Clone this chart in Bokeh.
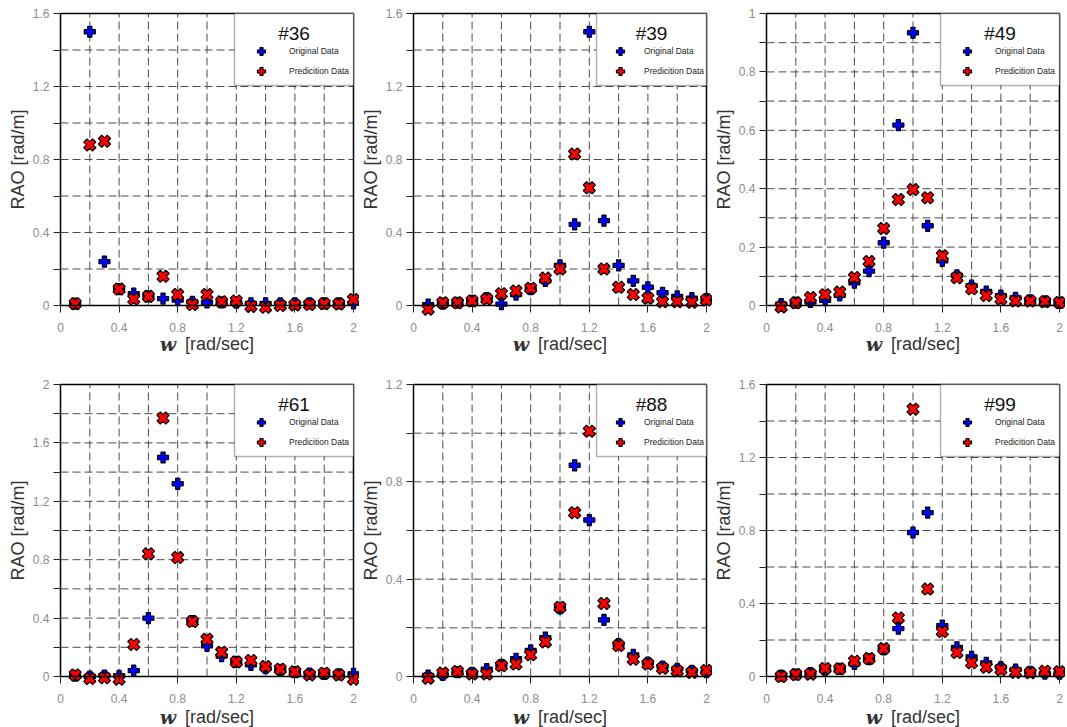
import math
from bokeh.plotting import figure
from bokeh.layouts import column, row
from bokeh.models import FixedTicker, Legend, LegendItem, Label, BoxAnnotation
from bokeh.embed import file_html
from bokeh.resources import INLINE

# ---------------- data ----------------
omega = [0.1, 0.2, 0.3, 0.4, 0.5, 0.6, 0.7, 0.8, 0.9, 1.0,
         1.1, 1.2, 1.3, 1.4, 1.5, 1.6, 1.7, 1.8, 1.9, 2.0]

case_ids = ["#36", "#39", "#49", "#61", "#88", "#99"]
y_max = [1.6, 1.6, 1.0, 2.0, 1.2, 1.6]
y_grid_step = [0.2, 0.2, 0.1, 0.2, 0.2, 0.2]
y_label_step = [0.4, 0.4, 0.2, 0.4, 0.4, 0.4]
x_ticks = [0, 0.4, 0.8, 1.2, 1.6, 2]
x_tick_labels = ["0", "0.4", "0.8", "1.2", "1.6", "2"]
legend_labels = ["Original Data", "Predicition Data"]

orig_36 = [0.01, 1.50, 0.24, 0.09, 0.065, 0.05, 0.038, 0.03, 0.02, 0.017,
           0.017, 0.015, 0.012, 0.012, 0.012, 0.012, 0.012, 0.012, 0.012, 0.012]
pred_36 = [0.01, 0.88, 0.90, 0.09, 0.035, 0.05, 0.16, 0.06, 0.005, 0.06,
           0.02, 0.025, -0.005, -0.01, 0.0, 0.003, 0.005, 0.01, 0.008, 0.033]

orig_39 = [0.005, 0.01, 0.015, 0.025, 0.04, 0.008, 0.06, 0.09, 0.135, 0.22,
           0.445, 1.50, 0.465, 0.22, 0.135, 0.10, 0.07, 0.05, 0.04, 0.035]
pred_39 = [-0.02, 0.015, 0.015, 0.025, 0.035, 0.065, 0.08, 0.095, 0.15, 0.20,
           0.83, 0.645, 0.20, 0.10, 0.06, 0.04, 0.02, 0.02, 0.018, 0.03]

orig_49 = [0.005, 0.01, 0.012, 0.018, 0.035, 0.078, 0.118, 0.215, 0.618, 0.934,
           0.273, 0.153, 0.103, 0.068, 0.048, 0.034, 0.026, 0.018, 0.014, 0.009]
pred_49 = [-0.005, 0.009, 0.027, 0.037, 0.046, 0.096, 0.151, 0.264, 0.363, 0.397,
           0.369, 0.170, 0.095, 0.057, 0.034, 0.022, 0.015, 0.015, 0.013, 0.010]

orig_61 = [0.005, 0.0, 0.007, 0.005, 0.04, 0.40, 1.50, 1.32, 0.38, 0.21,
           0.14, 0.10, 0.08, 0.057, 0.045, 0.03, 0.02, 0.018, 0.014, 0.018]
pred_61 = [0.011, -0.014, -0.009, -0.018, 0.22, 0.84, 1.77, 0.815, 0.376, 0.255,
           0.166, 0.10, 0.11, 0.068, 0.05, 0.032, 0.011, 0.023, 0.011, -0.018]

orig_88 = [0.004, 0.007, 0.018, 0.015, 0.03, 0.048, 0.073, 0.107, 0.16, 0.28,
           0.868, 0.643, 0.233, 0.133, 0.089, 0.057, 0.041, 0.031, 0.023, 0.018]
pred_88 = [-0.007, 0.014, 0.021, 0.01, 0.01, 0.044, 0.051, 0.089, 0.142, 0.285,
           0.673, 1.008, 0.30, 0.127, 0.071, 0.051, 0.034, 0.023, 0.016, 0.025]

orig_99 = [0.005, 0.011, 0.018, 0.036, 0.042, 0.069, 0.095, 0.148, 0.262, 0.789,
           0.898, 0.279, 0.16, 0.108, 0.075, 0.051, 0.038, 0.026, 0.016, 0.015]
pred_99 = [0.0, 0.011, 0.013, 0.044, 0.042, 0.084, 0.098, 0.153, 0.321, 1.465,
           0.479, 0.246, 0.131, 0.075, 0.051, 0.038, 0.022, 0.02, 0.029, 0.026]

original = [orig_36, orig_39, orig_49, orig_61, orig_88, orig_99]
predicted = [pred_36, pred_39, pred_49, pred_61, pred_88, pred_99]

# ---------------- layout / style ----------------
BW, BH = 293, 292          # plot box (0..2, 0..ymax) in px
PAD_R = 6
pad_left = [60, 54, 54, 60, 54, 54]
pad_top = [13, 13, 13, 8, 8, 8]
pad_bottom = [71, 71, 71, 51, 51, 51]
xtitle_drop = [38, 38, 38, 40, 40, 40]
X_MAX = 2.0
NARROW = "'Liberation Sans Narrow', 'Liberation Sans', Arial, sans-serif"
SANS = "'Liberation Sans', Arial, sans-serif"
TICK_COLOR = "#8c8c8c"
LABEL_COLOR = "#333333"
legend_box_w = [119, 110, 119, 119, 110, 119]
LEG_H = 72


def fmt(t):
    if abs(t - round(t)) < 1e-9:
        return str(int(round(t)))
    return "%.1f" % t


def make_panel(i):
    ymax = y_max[i]
    gstep = y_grid_step[i]
    lstep = y_label_step[i]
    px = X_MAX / BW          # data units per pixel
    py = ymax / BH
    pl, pt, pb = pad_left[i], pad_top[i], pad_bottom[i]
    fw = pl + BW + PAD_R
    fh = pt + BH + pb
    p = figure(frame_width=fw, frame_height=fh,
               x_range=(-pl * px, X_MAX + PAD_R * px),
               y_range=(-pb * py, ymax + pt * py),
               output_backend="svg", toolbar_location=None,
               min_border=0)
    p.outline_line_color = None
    p.grid.visible = False
    p.background_fill_color = "white"
    p.border_fill_color = "white"

    # dashed grid (from tick positions)
    gx = [round(k * 0.2, 6) for k in range(1, int(round(X_MAX / 0.2)))]
    p.segment(x0=gx, y0=[0] * len(gx), x1=gx, y1=[ymax] * len(gx),
              line_color="#4a4a4a", line_width=1, line_dash="8 4")
    ny = int(round(ymax / gstep))
    gy = [round(k * gstep, 6) for k in range(1, ny)]
    p.segment(x0=[0] * len(gy), y0=gy, x1=[X_MAX] * len(gy), y1=gy,
              line_color="#4a4a4a", line_width=1, line_dash="8 4")

    # solid top and right borders
    p.segment(x0=[0, X_MAX], y0=[ymax, 0], x1=[X_MAX, X_MAX], y1=[ymax, ymax],
              line_color="black", line_width=1.5)

    r_o = p.scatter(omega, original[i], marker="plus", size=11,
                    fill_color="#0000ff", line_color="black", line_width=1.2)
    r_p = p.scatter(omega, predicted[i], marker="plus", angle=math.pi / 4, size=12.5,
                    fill_color="#ff0000", line_color="black", line_width=1.2)

    # x axis on the zero line
    xa = p.xaxis[0]
    xa.fixed_location = 0
    xa.bounds = (0, X_MAX)
    xa.ticker = FixedTicker(ticks=x_ticks, minor_ticks=[])
    xa.major_label_overrides = dict(zip([float(t) for t in x_ticks], x_tick_labels))
    xa.axis_line_color = "black"
    xa.axis_line_width = 1.5
    xa.major_tick_in = 0
    xa.major_tick_out = 7
    xa.major_tick_line_color = "#222222"
    xa.major_label_standoff = 10
    xa.major_label_text_font = SANS
    xa.major_label_text_font_size = "12px"
    xa.major_label_text_color = TICK_COLOR

    # y axis on x = 0
    yt = [round(k * gstep, 6) for k in range(0, ny + 1)]
    ov = {}
    for t in yt:
        q = t / lstep
        ov[float(t)] = fmt(t) if abs(q - round(q)) < 1e-6 else ""
    ya = p.yaxis[0]
    ya.fixed_location = 0
    ya.bounds = (0, ymax)
    ya.ticker = FixedTicker(ticks=yt, minor_ticks=[])
    ya.major_label_overrides = ov
    ya.axis_line_color = "black"
    ya.axis_line_width = 1.5
    ya.major_tick_in = 0
    ya.major_tick_out = 7
    ya.major_tick_line_color = "#222222"
    ya.major_label_standoff = 4
    ya.major_label_text_font = SANS
    ya.major_label_text_font_size = "12px"
    ya.major_label_text_color = TICK_COLOR

    # axis titles
    p.add_layout(Label(x=-43 * px, y=ymax / 2, text="RAO [rad/m]", angle=math.pi / 2,
                       text_font=SANS, text_font_size="18px", text_color=LABEL_COLOR,
                       text_align="center", text_baseline="middle"))
    xc = X_MAX / 2
    dy = xtitle_drop[i]
    p.add_layout(Label(x=xc - 39 * px, y=-dy * py, text="w",
                       text_font="DejaVu Serif", text_font_style="bold italic",
                       text_font_size="19px", text_color=LABEL_COLOR,
                       text_align="center", text_baseline="middle"))
    p.add_layout(Label(x=xc - 22 * px, y=-dy * py, text="[rad/sec]",
                       text_font=SANS, text_font_size="18px", text_color=LABEL_COLOR,
                       text_align="left", text_baseline="middle"))

    # legend: framed box + centred case title + entries
    lw = legend_box_w[i]
    box = BoxAnnotation(left=X_MAX - lw * px, right=X_MAX,
                        bottom=ymax - LEG_H * py, top=ymax,
                        fill_color="white", fill_alpha=1.0,
                        line_color="black", line_width=1.5)
    p.add_layout(box)
    if lw > 115:
        gw, stand = 54, 1
    else:
        gw, stand = 48, 0
    legend = Legend(items=[LegendItem(label=legend_labels[0], renderers=[r_o]),
                           LegendItem(label=legend_labels[1], renderers=[r_p])],
                    location=(pl + BW - lw, fh - pt - 30 - 38),
                    padding=0, margin=0, spacing=-2,
                    glyph_width=gw, glyph_height=20, label_standoff=stand,
                    label_width=62, label_height=14,
                    border_line_color=None, background_fill_alpha=0.0,
                    label_text_font=NARROW, label_text_font_size="8.5px",
                    label_text_color="#222222")
    p.add_layout(legend)
    p.add_layout(Label(x=X_MAX - (lw / 2) * px, y=ymax - 20 * py, text=case_ids[i],
                       text_font=NARROW, text_font_size="19px", text_color="#111111",
                       text_align="center", text_baseline="middle"))
    return p


panels = [make_panel(i) for i in range(6)]
layout = column(row(*panels[:3]), row(*panels[3:]))
open("out.html", "w").write(file_html(layout, INLINE))
